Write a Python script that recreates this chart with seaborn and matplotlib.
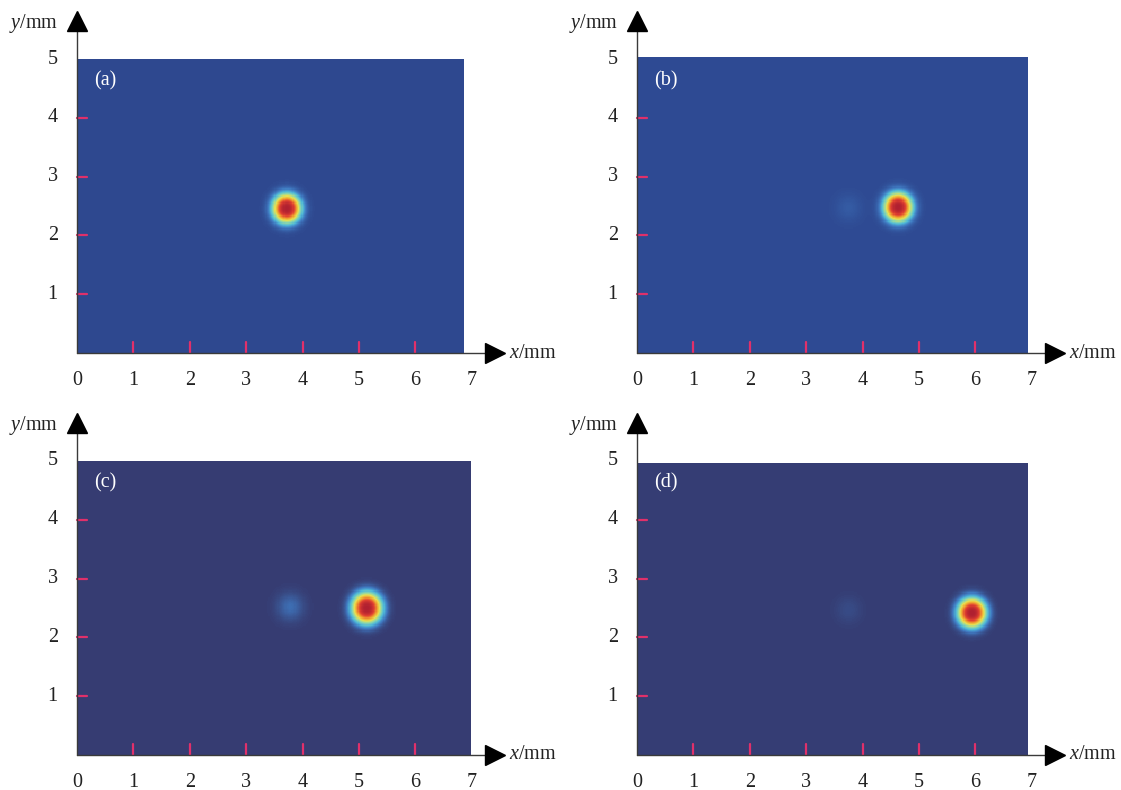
# beam spot images, four positions of the scanned spot
import numpy as np
import pandas as pd
import matplotlib.pyplot as plt
from matplotlib.colors import LinearSegmentedColormap
import seaborn as sns

sns.set_theme(style='white')
plt.rcParams['font.family'] = ['Liberation Serif', 'DejaVu Serif']
plt.rcParams['mathtext.fontset'] = 'custom'
plt.rcParams['mathtext.rm'] = 'Liberation Serif'
plt.rcParams['mathtext.it'] = 'Liberation Serif:italic'

# data
panel_labels = ['(a)', '(b)', '(c)', '(d)']
spot_x = [3.72, 4.63, 5.14, 5.94]     # mm, main spot centre
spot_y = [2.46, 2.48, 2.50, 2.42]
spot_sigma = [0.18, 0.18, 0.19, 0.18]
ghost_x = [3.75, 3.75, 3.78, 3.75]    # weak spot left behind
ghost_y = [2.45, 2.47, 2.52, 2.47]
ghost_amp = [0.0, 0.045, 0.10, 0.03]
img_w = [6.86, 6.93, 6.99, 6.93]      # mm, size of the camera frame
img_h = [5.0, 5.03, 5.0, 4.97]
bg_colors = ['#2e488f', '#2e4a93', '#363c72', '#353d74']
x_ticks = [0, 1, 2, 3, 4, 5, 6, 7]
y_ticks = [1, 2, 3, 4, 5]
red_x = [1, 2, 3, 4, 5, 6]
red_y = [1, 2, 3, 4]

# panel origin in pixels and scale
origins = [(77, 353), (637, 353), (77, 755), (637, 755)]
sx, sy = 56.4, 58.8
xmin, xmax, ymin, ymax = -1.1, 8.6, -0.6, 5.95
W, H = 1121, 790

fig = plt.figure(figsize=(W / 100, H / 100), dpi=100)

jet_cols = ['#3f78c0', '#4fb8d8', '#8fd8a8', '#e8e050', '#f0a030', '#e04030', '#b02030']
jet_pos = [0.0, 0.12, 0.25, 0.4, 0.55, 0.7, 0.85, 1.0]

for i in range(4):
    ox, oy = origins[i]
    left = (ox + xmin * sx) / W
    bottom = 1 - (oy - ymin * sy) / H
    ax = fig.add_axes([left, bottom, (xmax - xmin) * sx / W, (ymax - ymin) * sy / H])
    ax.set_xlim(xmin, xmax)
    ax.set_ylim(ymin, ymax)
    ax.axis('off')

    # intensity frame
    nx = int(round(img_w[i] / 0.02))
    ny = int(round(img_h[i] / 0.02))
    xs = (np.arange(nx) + 0.5) * img_w[i] / nx
    ys = (np.arange(ny)[::-1] + 0.5) * img_h[i] / ny
    X, Y = np.meshgrid(xs, ys)
    r2 = ((X - spot_x[i]) ** 2 + (Y - spot_y[i]) ** 2) / (2 * spot_sigma[i] ** 2)
    g2 = ((X - ghost_x[i]) ** 2 + (Y - ghost_y[i]) ** 2) / (2 * 0.16 ** 2)
    field = np.exp(-r2 ** 1.3) + ghost_amp[i] * np.exp(-g2)
    frame = pd.DataFrame(field, index=np.round(ys, 2), columns=np.round(xs, 2))

    cmap = LinearSegmentedColormap.from_list('beam', list(zip(jet_pos, [bg_colors[i]] + jet_cols)))
    inner = ax.inset_axes([0, 0, img_w[i], img_h[i]], transform=ax.transData)
    sns.heatmap(frame, ax=inner, cmap=cmap, vmin=0, vmax=1, cbar=False,
                xticklabels=False, yticklabels=False, rasterized=True)
    inner.axis('off')

    # red marks inside the frame
    for t in red_x:
        ax.plot([t, t], [0, 0.18], color='#e0306a', lw=1.6, zorder=8)
    for t in red_y:
        ax.plot([0, 0.18], [t, t], color='#e0306a', lw=1.6, zorder=8)

    # axes with arrows
    ax.plot([0, 0], [0, 5.5], color='#3a3a3a', lw=1.0, zorder=9)
    ax.plot([0, 7.3], [0, 0], color='#3a3a3a', lw=1.0, zorder=9)
    ax.plot(0, 5.64, marker='^', ms=14, color='black', zorder=10, clip_on=False)
    ax.plot(7.42, 0, marker='>', ms=14, color='black', zorder=10, clip_on=False)

    for t in x_ticks:
        ax.text(t, -0.47, str(t), ha='center', va='center', fontsize=14.5, color='#222222')
    for t in y_ticks:
        ax.text(-0.34, t, str(t), ha='right', va='center', fontsize=14.5, color='#222222')
    ax.text(-0.34, 5.6, '$y$/mm', ha='right', va='center', fontsize=14.5, color='#222222')
    ax.text(7.66, 0, '$x$/mm', ha='left', va='center', fontsize=14.5, color='#222222')
    ax.text(0.3, 4.62, panel_labels[i], ha='left', va='center', fontsize=14.5, color='white', zorder=11)

plt.savefig('out.png', dpi=100)
